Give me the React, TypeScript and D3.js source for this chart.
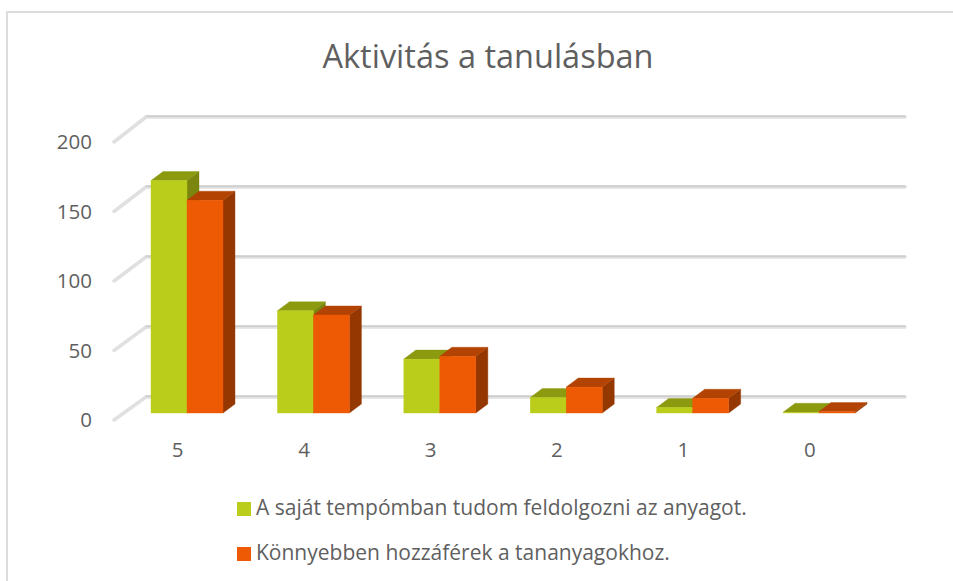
import React from "react";
import * as d3 from "d3";

const categories = ["5", "4", "3", "2", "1", "0"];
const seriesA = [166, 73, 38.5, 11, 4, 0.5];
const seriesB = [152, 70, 40.5, 18.5, 10.5, 1];
const seriesNames = [
  "A saját tempómban tudom feldolgozni az anyagot.",
  "Könnyebben hozzáférek a tananyagokhoz.",
];
const yTicks = [0, 50, 100, 150, 200];
const title = "Aktivitás a tanulásban";

const font = "'Open Sans', 'Noto Sans', sans-serif";
const textColor = "#5f5f5f";
const depthX = 12;
const depthY = 9;

const x = d3.scaleBand<string>().domain(categories).range([114.5, 873]).paddingInner(0);
const y = d3.scaleLinear().domain([0, 200]).range([413, 133]);
const wallY = d3.scaleLinear().domain([0, 200]).range([397, 117]);
const sideY = d3.scaleLinear().domain([0, 200]).range([420, 142]);
const labelY = d3.scaleLinear().domain([0, 200]).range([420, 142]);

function Bar({ x0, w, v, front, top, side }: any) {
  const yt = y(v);
  const yb = y(0);
  const x1 = x0 + w;
  const line = d3.line();
  const topPath = line([[x0, yt], [x0 + depthX, yt - depthY], [x1 + depthX, yt - depthY], [x1, yt]]) + "Z";
  const sidePath = line([[x1, yt], [x1 + depthX, yt - depthY], [x1 + depthX, yb - depthY], [x1, yb]]) + "Z";
  return (
    <g>
      <path d={sidePath} fill={side} stroke={side} strokeWidth={0.4} />
      <path d={topPath} fill={top} stroke={top} strokeWidth={0.4} />
      <rect x={x0} y={yt} width={w} height={yb - yt} fill={front} stroke={front} strokeWidth={0.4} />
    </g>
  );
}

export default function App() {
  const barW = 36;
  const left = (c: string) => x(c)! + x.bandwidth() / 2 - barW + 9.3;
  return (
    <svg
      width={953}
      height={581}
      style={{ position: "absolute", left: 0, top: 0, background: "#fff" }}
    >
      <path d="M7 581V12H953" fill="none" stroke="#dcdcdc" strokeWidth={2} />
      <text x={488} y={68} textAnchor="middle" fontFamily={font} fontSize={32.5} fill={textColor}>
        {title}
      </text>
      {yTicks.map((t) => (
        <g key={t} fill="none" strokeLinejoin="round" strokeLinecap="round">
          <path
            d={`M114 ${sideY(t)}L146 ${wallY(t)}H905`}
            stroke="#e0e0e0"
            strokeWidth={3.5}
          />
          <path d={`M146 ${wallY(t) - 0.8}H905`} stroke="#c8c8c8" strokeWidth={1.3} />
        </g>
      ))}
      {yTicks.map((t) => (
        <text
          key={t}
          x={92}
          y={labelY(t)}
          dy="0.36em"
          textAnchor="end"
          fontFamily={font}
          fontSize={20.5}
          fill={textColor}
        >
          {t}
        </text>
      ))}
      {categories.map((c, i) => (
        <g key={c}>
          <Bar x0={left(c)} w={barW} v={seriesA[i]} front="#bacd1a" top="#8c9a10" side="#7a860d" />
          <Bar x0={left(c) + barW} w={barW} v={seriesB[i]} front="#ee5903" top="#b34302" side="#953701" />
          <text
            x={x(c)! + x.bandwidth() / 2}
            y={457}
            textAnchor="middle"
            fontFamily={font}
            fontSize={20.5}
            fill={textColor}
          >
            {c}
          </text>
        </g>
      ))}
      {seriesNames.map((n, i) => (
        <g key={n}>
          <rect x={237} y={502 + i * 45} width={14} height={14} fill={i === 0 ? "#bacd1a" : "#ee5903"} />
          <text x={256} y={515 + i * 45} fontFamily={font} fontSize={21} fill={textColor}>
            {n}
          </text>
        </g>
      ))}
    </svg>
  );
}
